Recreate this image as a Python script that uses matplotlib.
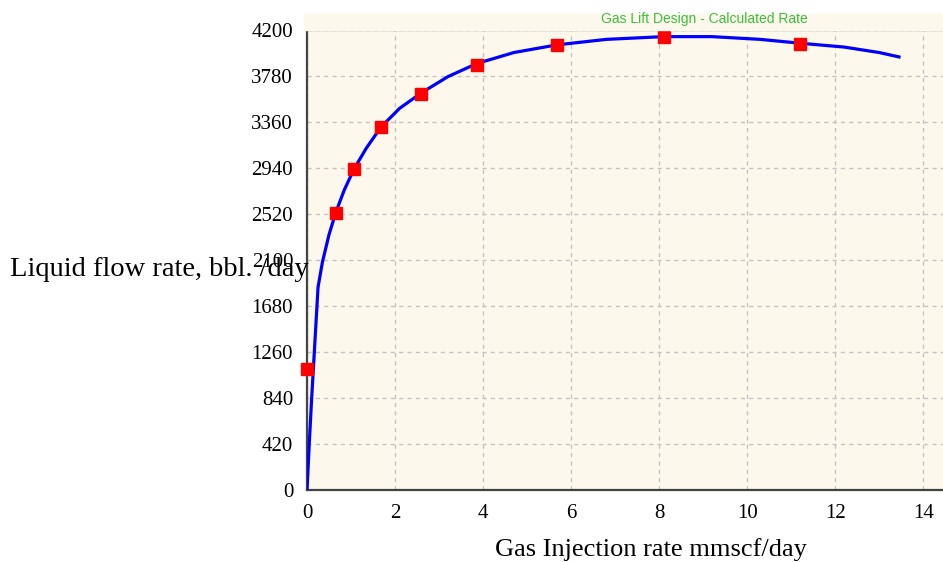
import matplotlib.pyplot as plt

# gas injection (mmscf/day) vs liquid rate (bbl/day)
curve_x = [0, 0.05, 0.1, 0.15, 0.2, 0.25, 0.35, 0.5, 0.66, 0.85, 1.07, 1.35, 1.68,
           2.1, 2.59, 3.2, 3.86, 4.7, 5.68, 6.8, 8.1, 9.2, 10.3, 11.2, 12.2, 13.0, 13.45]
curve_y = [0, 420, 800, 1150, 1500, 1850, 2080, 2330, 2540, 2740, 2930, 3120, 3310,
           3480, 3620, 3770, 3890, 3990, 4060, 4110, 4135, 4135, 4110, 4075, 4040, 3990, 3950]

point_x = [0.0, 0.66, 1.07, 1.68, 2.59, 3.86, 5.68, 8.11, 11.2]
point_y = [1100, 2530, 2930, 3310, 3610, 3880, 4060, 4130, 4070]

yticks = [0, 420, 840, 1260, 1680, 2100, 2520, 2940, 3360, 3780, 4200]
xticks = [0, 2, 4, 6, 8, 10, 12, 14]

serif = 'Liberation Serif'

fig = plt.figure(figsize=(9.43, 5.62), dpi=100)
ax = fig.add_axes([0.3256, 0.128, 0.6744, 0.8195])
ax.set_facecolor('#fcf8ec')

ax.plot(curve_x, curve_y, color='#0000ff', lw=2.3, zorder=3)
ax.plot(point_x, point_y, ls='none', marker='s', ms=8, color='#ff0000', zorder=4,
        clip_on=False)

ax.set_xlim(0, 14.45)
ax.set_ylim(0, 4200)
ax.set_xticks(xticks)
ax.set_yticks(yticks)
ax.tick_params(length=0, labelsize=15)
ax.tick_params(axis='x', pad=10)
ax.tick_params(axis='y', pad=10)
for lab in ax.get_xticklabels() + ax.get_yticklabels():
    lab.set_fontfamily(serif)
ax.grid(True, ls=(0, (3, 3)), color='#c4c4c4', lw=1)

for s in ['left', 'bottom', 'top']:
    ax.spines[s].set_color('#444444')
    ax.spines[s].set_linewidth(1.6)
ax.spines['right'].set_visible(False)

# cream strip above the plot holding the title
fig.patches.append(plt.Rectangle((0.3225, 0.9475), 0.68, 0.028,
                                 transform=fig.transFigure, color='#fcf8ec', zorder=0))
fig.text(0.747, 0.967, 'Gas Lift Design - Calculated Rate', color='#3cc03c',
         fontsize=10, family='Liberation Sans', ha='center', va='center')

fig.text(0.011, 0.52, 'Liquid flow rate, bbl. /day', fontsize=20.5, family=serif,
         ha='left', va='center')
fig.text(0.69, 0.022, 'Gas Injection rate mmscf/day', fontsize=19, family=serif,
         ha='center', va='center')

fig.savefig('out.png', dpi=100)
